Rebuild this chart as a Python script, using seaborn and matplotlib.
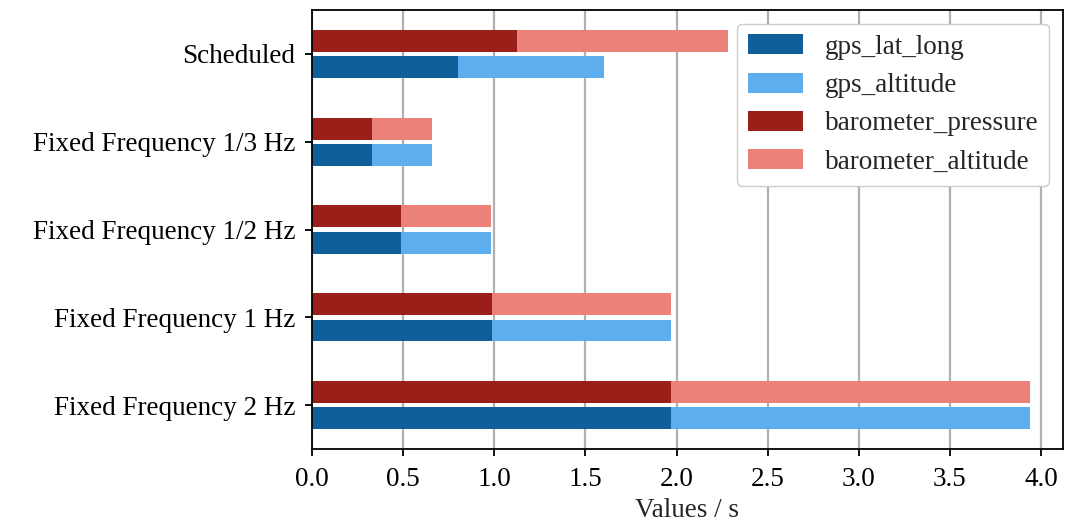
import matplotlib
matplotlib.use("Agg")
import matplotlib.pyplot as plt
from matplotlib.patches import Patch
import pandas as pd
import seaborn as sns

# Measurement modes, top to bottom
modes = ["Scheduled", "Fixed Frequency 1/3 Hz", "Fixed Frequency 1/2 Hz",
         "Fixed Frequency 1 Hz", "Fixed Frequency 2 Hz"]

# Time per sensor reading (s)
gps_lat_long = [0.80, 0.33, 0.49, 0.985, 1.97]
gps_altitude = [0.80, 0.33, 0.49, 0.985, 1.97]
barometer_pressure = [1.125, 0.33, 0.49, 0.985, 1.97]
barometer_altitude = [1.155, 0.33, 0.49, 0.985, 1.97]

series_labels = ["gps_lat_long", "gps_altitude", "barometer_pressure", "barometer_altitude"]
colors = {
    "gps_lat_long": "#115f9a",
    "gps_altitude": "#5daeee",
    "barometer_pressure": "#991f18",
    "barometer_altitude": "#ec817a",
}

rows = []
for i, m in enumerate(modes):
    rows.append({"mode": m, "sensor": "barometer",
                 "first": barometer_pressure[i],
                 "total": barometer_pressure[i] + barometer_altitude[i]})
    rows.append({"mode": m, "sensor": "gps",
                 "first": gps_lat_long[i],
                 "total": gps_lat_long[i] + gps_altitude[i]})
df = pd.DataFrame(rows)

FS = 19.5

sns.set_theme(style="white")
plt.rcParams["font.family"] = ["Liberation Serif", "DejaVu Serif"]
plt.rcParams["font.size"] = FS

fig = plt.figure(figsize=(10.65, 5.27), dpi=100)
ax = fig.add_axes([0.293, 0.148, 0.705, 0.833])

ax.set_axisbelow(True)
ax.grid(axis="x", color="#b0b0b0", linewidth=1.6)
ax.grid(axis="y", visible=False)

hue_order = ["barometer", "gps"]
common = dict(data=df, y="mode", order=modes, hue="sensor", hue_order=hue_order,
              orient="h", width=0.6, gap=1 / 6, legend=False, ax=ax,
              saturation=1, errorbar=None, linewidth=0)
# full stack (second segment colour), then first segment drawn over it
sns.barplot(x="total", palette={"barometer": colors["barometer_altitude"],
                                "gps": colors["gps_altitude"]}, **common)
sns.barplot(x="first", palette={"barometer": colors["barometer_pressure"],
                                "gps": colors["gps_lat_long"]}, **common)

ax.set_xlim(0, 4.12)
ax.set_ylim(4.5, -0.5)
ax.set_xticks([0, 0.5, 1.0, 1.5, 2.0, 2.5, 3.0, 3.5, 4.0])
ax.set_xticklabels([f"{v:.1f}" for v in ax.get_xticks()])
ax.set_xlabel("Values / s", fontsize=FS, labelpad=4)
ax.set_ylabel("")

for s in ax.spines.values():
    s.set_color("black")
    s.set_linewidth(1.3)
ax.tick_params(axis="both", which="major", direction="out", length=5, width=1.3,
               color="black", labelsize=FS, labelcolor="black", bottom=True, left=True)
ax.tick_params(axis="x", pad=8)
ax.tick_params(axis="y", pad=7)

handles = [Patch(facecolor=colors[k], edgecolor="none", label=k) for k in series_labels]
ax.legend(handles=handles, loc="upper right", fontsize=FS, frameon=True,
          handlelength=2.05, handleheight=0.75, handletextpad=0.8,
          labelspacing=0.48, borderpad=0.4,
          borderaxespad=0.5, framealpha=1, edgecolor="#cccccc", fancybox=True)

fig.savefig("out.png", dpi=100)
